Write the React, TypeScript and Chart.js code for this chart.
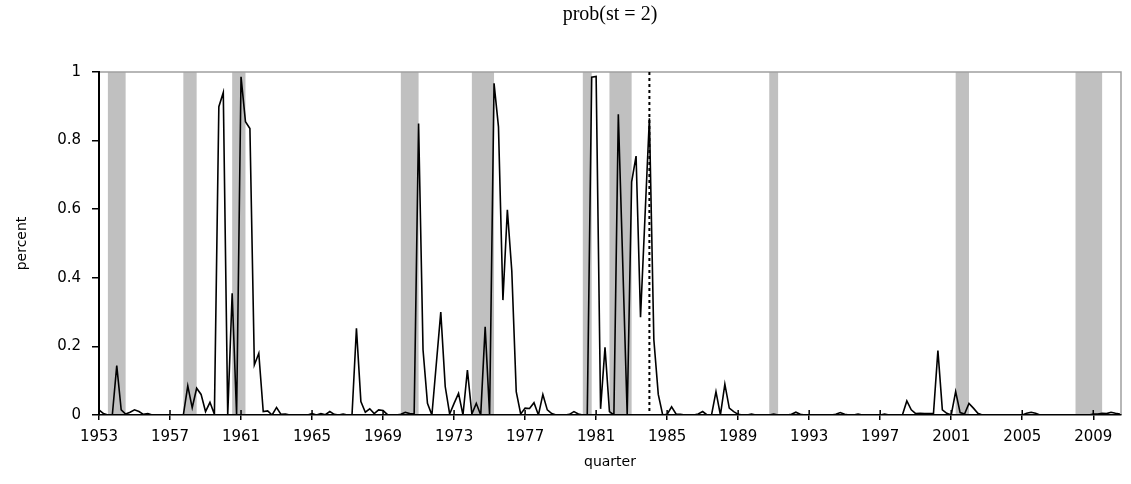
import React, { useEffect, useRef } from "react";
import { Chart, registerables } from "chart.js";

Chart.register(...registerables);

const chartTitle = "prob(st = 2)";
const yAxisTitle = "percent";
const xAxisTitle = "quarter";
const firstYear = 1953;

// Probability of state 2, quarterly from 1953Q1 to 2010Q3
const probValues: number[] = [
  0.015, 0.004, 0, 0, 0.144, 0.015, 0.003, 0.008, 0.015, 0.010,
  0.002, 0.004, 0, 0, 0, 0, 0, 0, 0, 0,
  0.085, 0.021, 0.078, 0.060, 0.010, 0.037, 0.002, 0.899, 0.940, 0,
  0.355, 0, 0.986, 0.855, 0.835, 0.146, 0.180, 0.010, 0.012, 0,
  0.022, 0.002, 0.003, 0, 0, 0, 0, 0, 0.004, 0,
  0.004, 0.001, 0.010, 0.002, 0, 0.003, 0, 0, 0.253, 0.039,
  0.008, 0.018, 0.004, 0.015, 0.013, 0.001, 0, 0, 0.002, 0.008,
  0.004, 0.003, 0.850, 0.190, 0.034, 0, 0.150, 0.300, 0.083, 0.003,
  0.034, 0.063, 0, 0.131, 0.003, 0.034, 0, 0.257, 0, 0.967,
  0.840, 0.335, 0.598, 0.420, 0.068, 0.003, 0.020, 0.019, 0.036, 0,
  0.060, 0.015, 0.004, 0, 0, 0, 0.002, 0.010, 0.003, 0,
  0, 0.985, 0.987, 0.018, 0.197, 0.010, 0, 0.877, 0.440, 0,
  0.680, 0.755, 0.285, 0.575, 0.865, 0.220, 0.060, 0, 0.002, 0.024,
  0.003, 0.002, 0, 0, 0, 0.003, 0.010, 0, 0, 0.068,
  0, 0.090, 0.020, 0.010, 0.002, 0, 0, 0.003, 0, 0,
  0, 0, 0.003, 0, 0, 0, 0.002, 0.008, 0.002, 0,
  0, 0, 0, 0, 0, 0, 0.002, 0.007, 0.002, 0,
  0, 0.003, 0, 0, 0, 0, 0, 0.003, 0, 0,
  0, 0, 0.041, 0.015, 0.004, 0.005, 0.004, 0.004, 0.004, 0.188,
  0.015, 0.005, 0, 0.068, 0.007, 0.003, 0.034, 0.020, 0.005, 0,
  0, 0, 0, 0, 0, 0, 0, 0, 0, 0.005,
  0.008, 0.005, 0, 0, 0, 0, 0, 0, 0, 0,
  0, 0, 0, 0, 0.003, 0.003, 0.005, 0.004, 0.008, 0.005,
  0.003,
];

const xTickYears = [1953, 1957, 1961, 1965, 1969, 1973, 1977, 1981, 1985, 1989, 1993, 1997, 2001, 2005, 2009];
const yTickValues = [0, 0.2, 0.4, 0.6, 0.8, 1];

// NBER recessions (peak quarter, trough quarter)
const recessionPeaks = ["1953Q2", "1957Q3", "1960Q2", "1969Q4", "1973Q4", "1980Q1", "1981Q3", "1990Q3", "2001Q1", "2007Q4"];
const recessionTroughs = ["1954Q2", "1958Q2", "1961Q1", "1970Q4", "1975Q1", "1980Q3", "1982Q4", "1991Q1", "2001Q4", "2009Q2"];

const breakQuarter = "1984Q1";

const quarterIndex = (q: string) => {
  const [y, qq] = q.split("Q");
  return (Number(y) - firstYear) * 4 + (Number(qq) - 1);
};

const SANS = "'DejaVu Sans', sans-serif";

const overlayPlugin = {
  id: "overlay",
  beforeDraw(chart: any) {
    const { ctx, chartArea: a, scales } = chart;
    const x = scales.x;
    ctx.save();
    ctx.fillStyle = "#c0c0c0";
    recessionPeaks.forEach((p, i) => {
      const x0 = x.getPixelForValue(quarterIndex(p) + 1);
      const x1 = x.getPixelForValue(quarterIndex(recessionTroughs[i]) + 1);
      ctx.fillRect(x0, a.top, x1 - x0, a.bottom - a.top);
    });
    ctx.strokeStyle = "#a0a0a0";
    ctx.lineWidth = 1.5;
    ctx.beginPath();
    ctx.moveTo(a.left, a.top);
    ctx.lineTo(a.right, a.top);
    ctx.lineTo(a.right, a.bottom);
    ctx.stroke();
    ctx.restore();
  },
  beforeDatasetsDraw(chart: any) {
    const { ctx, chartArea: a, scales } = chart;
    const bx = scales.x.getPixelForValue(quarterIndex(breakQuarter));
    ctx.save();
    ctx.strokeStyle = "#000";
    ctx.lineWidth = 2;
    ctx.setLineDash([3, 3]);
    ctx.beginPath();
    ctx.moveTo(bx, a.top);
    ctx.lineTo(bx, a.bottom);
    ctx.stroke();
    ctx.restore();
  },
  afterDatasetsDraw(chart: any) {
    const { ctx, chartArea: a, scales } = chart;
    ctx.save();
    ctx.strokeStyle = "#000";
    ctx.lineWidth = 1.5;
    ctx.beginPath();
    xTickYears.forEach((yr) => {
      const px = scales.x.getPixelForValue((yr - firstYear) * 4);
      ctx.moveTo(px, a.bottom - 5);
      ctx.lineTo(px, a.bottom);
    });
    ctx.stroke();
    ctx.restore();
  },
};

export default function App() {
  const canvasRef = useRef<HTMLCanvasElement | null>(null);

  useEffect(() => {
    if (!canvasRef.current) return;
    const points = probValues.map((v, i) => ({ x: i, y: v }));
    const chart = new Chart(canvasRef.current, {
      type: "line",
      data: {
        datasets: [
          {
            data: points,
            borderColor: "#000",
            borderWidth: 1.6,
            pointRadius: 0,
            tension: 0,
            fill: false,
          },
        ],
      },
      options: {
        animation: false,
        responsive: false,
        events: [],
        layout: { padding: { left: 0, right: 10, top: 0, bottom: 0 } },
        plugins: {
          legend: { display: false },
          tooltip: { enabled: false },
          title: {
            display: true,
            text: chartTitle,
            color: "#000",
            fullSize: false,
            font: { family: "'Liberation Serif', serif", size: 20, weight: "normal", lineHeight: 1 },
            padding: { top: 5, bottom: 47 },
          },
        },
        scales: {
          x: {
            type: "linear",
            min: 0,
            max: probValues.length - 1 + 0.25,
            afterFit: (s: any) => {
              s.height = 69;
            },
            afterBuildTicks: (s: any) => {
              s.ticks = xTickYears.map((yr) => ({ value: (yr - firstYear) * 4 }));
            },
            grid: { display: true, drawOnChartArea: false, drawTicks: true, tickLength: 5, color: "#000", lineWidth: 1.5 },
            border: { display: true, color: "#000", width: 1.5 },
            ticks: {
              autoSkip: false,
              maxRotation: 0,
              padding: 8,
              color: "#000",
              font: { family: SANS, size: 15 },
              callback: (v: any) => String(firstYear + Number(v) / 4),
            },
            title: {
              display: true,
              text: xAxisTitle,
              color: "#000",
              font: { family: SANS, size: 14 },
              padding: { top: 0, bottom: 13.6 },
            },
          },
          y: {
            type: "linear",
            min: 0,
            max: 1,
            afterFit: (s: any) => {
              s.width = 99;
            },
            afterBuildTicks: (s: any) => {
              s.ticks = yTickValues.map((v) => ({ value: v }));
            },
            grid: { display: true, drawOnChartArea: false, drawTicks: true, tickLength: 7, color: "#000", lineWidth: 1.5 },
            border: { display: true, color: "#000", width: 2 },
            ticks: {
              padding: 11,
              color: "#000",
              font: { family: SANS, size: 15 },
              callback: (v: any) => String(Math.round(Number(v) * 10) / 10),
            },
            title: {
              display: true,
              text: yAxisTitle,
              color: "#000",
              font: { family: SANS, size: 14 },
              padding: { top: 13.6, bottom: 0 },
            },
          },
        },
      },
      plugins: [overlayPlugin],
    });
    return () => chart.destroy();
  }, []);

  return (
    <div style={{ position: "fixed", left: 0, top: 0, width: 1131, height: 484, background: "#fff" }}>
      <canvas ref={canvasRef} width={1131} height={484} style={{ width: 1131, height: 484, display: "block" }} />
    </div>
  );
}
